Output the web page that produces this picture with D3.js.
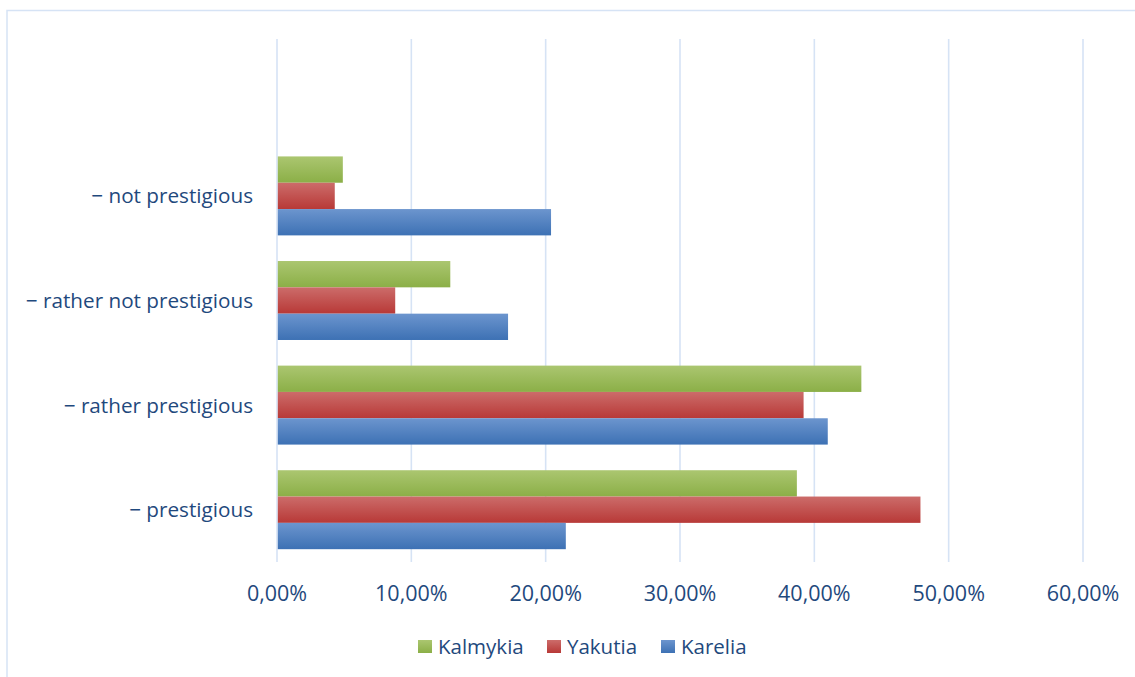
<!DOCTYPE html>
<html>
<head>
<meta charset="utf-8">
<script src="https://cdn.jsdelivr.net/npm/d3@7"></script>
<style>
  html, body { margin: 0; padding: 0; background: #fff; }
  svg { display: block; }
  text { font-family: "Open Sans", "Noto Sans", sans-serif; fill: #1F497D; }
</style>
</head>
<body>
<svg id="chart" width="1135" height="677"></svg>
<script>
// Answer categories (the first slot is an empty row at the top of the chart)
const categories = ["", "− not prestigious", "− rather not prestigious", "− rather prestigious", "− prestigious"];
// Regions, in the order their bars are stacked within each group (top to bottom)
const seriesNames = ["Kalmykia", "Yakutia", "Karelia"];
// Shares in percent, one value per category (empty row has none)
const kalmykia = [null, 4.9, 12.9, 43.5, 38.7];
const yakutia  = [null, 4.3, 8.8, 39.2, 47.9];
const karelia  = [null, 20.4, 17.2, 41.0, 21.5];
const xTicks = [0, 10, 20, 30, 40, 50, 60];

const series = [kalmykia, yakutia, karelia];
const colors = [
  { top: "#ABC670", bottom: "#8BAF47" },
  { top: "#CC6C6A", bottom: "#B83937" },
  { top: "#6C95CE", bottom: "#3D71B4" }
];

const svg = d3.select("#chart");
const W = 1135, H = 677;
const plot = { left: 277, right: 1083, top: 39, bottom: 562 };

// Chart frame
svg.append("rect")
  .attr("x", 7).attr("y", 10.5)
  .attr("width", W + 10).attr("height", H + 10)
  .attr("fill", "none").attr("stroke", "#D6E3F5").attr("stroke-width", 1.5);

// Gradients for the bar fills
const defs = svg.append("defs");
colors.forEach((c, i) => {
  const g = defs.append("linearGradient")
    .attr("id", "grad" + i).attr("x1", 0).attr("y1", 0).attr("x2", 0).attr("y2", 1);
  g.append("stop").attr("offset", "0%").attr("stop-color", c.top);
  g.append("stop").attr("offset", "100%").attr("stop-color", c.bottom);
});

const x = d3.scaleLinear().domain([0, 60]).range([plot.left, plot.right]);
const y = d3.scaleBand().domain(categories).range([plot.top, plot.bottom])
  .paddingInner(0.245).paddingOuter(0.1225);
const ySub = d3.scaleBand().domain(seriesNames).range([0, y.bandwidth()]);

// Vertical gridlines
svg.append("g").selectAll("line")
  .data(xTicks).join("line")
  .attr("x1", d => x(d)).attr("x2", d => x(d))
  .attr("y1", plot.top).attr("y2", plot.bottom)
  .attr("stroke", "#D6E3F5").attr("stroke-width", 1.6);

// Bars
const groups = svg.append("g").selectAll("g")
  .data(categories.slice(1)).join("g")
  .attr("transform", c => `translate(0,${y(c)})`);

groups.each(function(c) {
  const ci = categories.indexOf(c);
  d3.select(this).selectAll("rect")
    .data(seriesNames.map((s, si) => ({ s, si, v: series[si][ci] })))
    .join("rect")
    .attr("x", x(0) + 0.8)
    .attr("y", d => ySub(d.s))
    .attr("width", d => x(d.v) - x(0) - 0.8)
    .attr("height", ySub.bandwidth())
    .attr("fill", d => `url(#grad${d.si})`);
});

// X axis labels
const fmt = v => v.toFixed(2).replace(".", ",") + "%";
svg.append("g").selectAll("text")
  .data(xTicks).join("text")
  .attr("x", d => x(d)).attr("y", 601)
  .attr("text-anchor", "middle")
  .attr("font-size", 21.5)
  .text(fmt);

// Category labels
svg.append("g").selectAll("text")
  .data(categories.slice(1)).join("text")
  .attr("x", 253)
  .attr("y", c => y(c) + y.bandwidth() / 2 + 7.5)
  .attr("text-anchor", "end")
  .attr("font-size", 20.7)
  .text(c => c);

// Legend
const legendX = [418, 547, 661];
const legend = svg.append("g").selectAll("g")
  .data(seriesNames).join("g")
  .attr("transform", (d, i) => `translate(${legendX[i]},640)`);
legend.append("rect")
  .attr("width", 14).attr("height", 13)
  .attr("fill", (d, i) => `url(#grad${i})`);
legend.append("text")
  .attr("x", 20).attr("y", 13.5)
  .attr("font-size", 20.5)
  .text(d => d);
</script>
</body>
</html>
